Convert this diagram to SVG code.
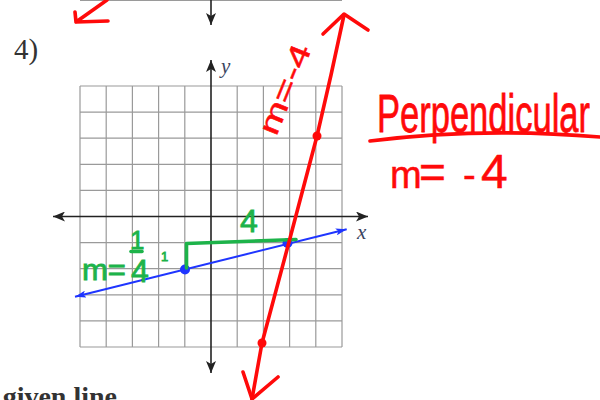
<svg xmlns="http://www.w3.org/2000/svg" width="600" height="400" viewBox="0 0 600 400">
<style>
.grid{stroke:#9a9a9a;stroke-width:1.2;fill:none}
.axis{stroke:#222;stroke-width:1.6;fill:none}
.print{font-family:"Liberation Serif",serif;fill:#333}
.ital{font-family:"Liberation Serif",serif;font-style:italic;fill:#3a4560;font-size:21px}
.red{stroke:#ff0a0a;stroke-width:3.6;fill:none;stroke-linecap:round;stroke-linejoin:round}
.redt{font-family:"Liberation Sans",sans-serif;fill:#ff0a0a;stroke:#ff0a0a;stroke-width:0.5}
.grn{stroke:#1db34a;stroke-width:3.6;fill:none;stroke-linecap:round;stroke-linejoin:round}
.grnt{font-family:"Liberation Sans",sans-serif;fill:#1db34a;stroke:#1db34a;stroke-width:0.8}
.blue{stroke:#1f35ff;stroke-width:2;fill:none}
</style>
<defs>
<marker id="ax" viewBox="0 0 12 10" refX="12" refY="5" markerWidth="12" markerHeight="10" markerUnits="userSpaceOnUse" orient="auto-start-reverse">
<path d="M0,0 L12,5 L0,10 L3,5 z" fill="#222"/>
</marker>
<marker id="bx" viewBox="0 0 11 7" refX="11" refY="3.5" markerWidth="11" markerHeight="7" markerUnits="userSpaceOnUse" orient="auto-start-reverse">
<path d="M0,0 L11,3.5 L0,7 L2.5,3.5 z" fill="#1f35ff"/>
</marker>
</defs>
<rect width="600" height="400" fill="#fff"/>

<g id="previous-problem">
<line class="grid" x1="80" y1="0.5" x2="342" y2="0.5"/>
<line class="axis" x1="211" y1="0" x2="211" y2="25" marker-end="url(#ax)"/>
<path class="red" d="M107,0 L76,22 M75,12 L76,22 L108,21"/>
</g>

<text class="print" x="14" y="59" font-size="29">4)</text>

<g id="grid">
<path class="grid" d="M80,86V347M106.2,86V347M132.4,86V347M158.6,86V347M184.8,86V347M237.2,86V347M263.4,86V347M289.6,86V347M315.8,86V347M342,86V347
M80,86H342M80,112.1H342M80,138.2H342M80,164.3H342M80,190.4H342M80,242.6H342M80,268.7H342M80,294.8H342M80,320.9H342M80,347H342"/>
</g>

<g id="axes">
<line class="axis" x1="53" y1="216.5" x2="368" y2="216.5" marker-start="url(#ax)" marker-end="url(#ax)"/>
<line class="axis" x1="211" y1="60" x2="211" y2="373" marker-start="url(#ax)" marker-end="url(#ax)"/>
<text class="ital" x="221" y="73">y</text>
<text class="ital" x="357" y="239">x</text>
</g>

<g id="given-line">
<line class="blue" x1="75" y1="296.7" x2="346.7" y2="229.3" marker-start="url(#bx)" marker-end="url(#bx)"/>
<circle cx="185" cy="269.5" r="5" fill="#1f35ff"/>
<circle cx="287.5" cy="243" r="5" fill="#1f35ff"/>
</g>

<g id="slope-triangle">
<path class="grn" d="M186.5,268 L186.5,243.5 L296,239.5"/>
<text class="grnt" x="240" y="232" font-size="32">4</text>
<text class="grnt" x="82" y="280" font-size="29" textLength="44" lengthAdjust="spacingAndGlyphs">m=</text>
<text class="grnt" x="130" y="249" font-size="26">1</text>
<line class="grn" x1="131" y1="251.5" x2="142" y2="251.5" stroke-width="2.5"/>
<text class="grnt" x="131" y="282" font-size="32">4</text>
<text class="grnt" x="161" y="261" font-size="13">1</text>
</g>

<g id="perpendicular-line">
<path class="red" d="M344,15 L331,75 L317,136 L289,242 L262,343 L252,399"/>
<path class="red" d="M323,34 L344,14 L368,30"/>
<path class="red" d="M243,372 L252,399 L278,377"/>
<circle cx="317" cy="136" r="4.5" fill="#ff0a0a"/>
<circle cx="262" cy="343" r="4.5" fill="#ff0a0a"/>
<text class="redt" transform="translate(294,93) rotate(-68)" text-anchor="middle" font-size="29" textLength="95" lengthAdjust="spacingAndGlyphs">m=-4</text>
</g>

<g id="note">
<text class="redt" transform="translate(377,132) scale(1,1.5)" font-size="36" textLength="213" lengthAdjust="spacingAndGlyphs">Perpendicular</text>
<path class="red" d="M370,141 Q480,127 600,137"/>
<text class="redt" x="390" y="188" font-size="38">m<tspan x="419" font-size="46">=</tspan><tspan x="463" font-size="38">-</tspan><tspan x="481" font-size="48">4</tspan></text>
</g>

<text class="print" x="117" y="406" font-size="28" font-weight="bold" text-anchor="end" fill="#111">given line</text>
</svg>
